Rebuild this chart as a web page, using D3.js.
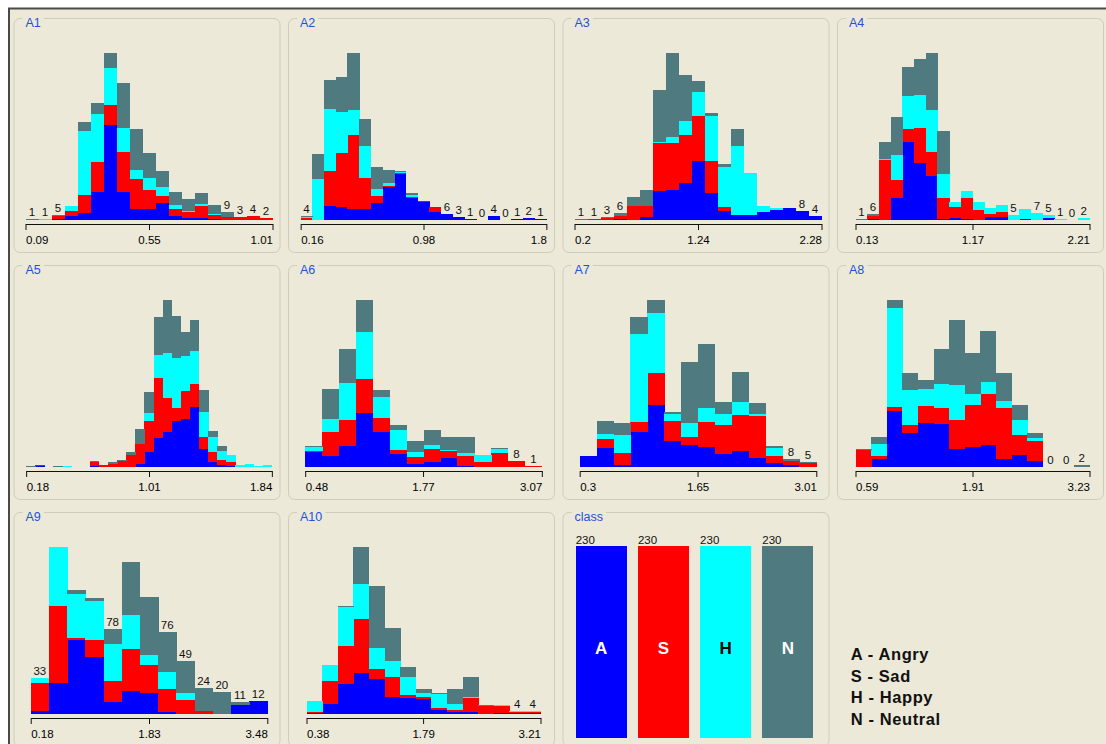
<!DOCTYPE html>
<html>
<head>
<meta charset="utf-8">
<script src="https://cdn.jsdelivr.net/npm/d3@7"></script>
<style>
  body { margin: 0; background: #ffffff; }
  text { font-family: "Liberation Sans", Arial, sans-serif; }
</style>
</head>
<body>
<div id="chart"></div>
<script>
// Step 1: the values
//= ================================
const classKeys = ["A", "S", "H", "N"];
const classColors = ["#0000ff", "#ff0000", "#00ffff", "#4f7a80"];
const classCounts = [230, 230, 230, 230];
const legendLabels = ["A - Angry", "S - Sad", "H - Happy", "N - Neutral"];

const attrNames = ["A1", "A2", "A3", "A4", "A5", "A6", "A7", "A8", "A9", "A10"];
const tickLabels = [
    [0.09, 0.55, 1.01], [0.16, 0.98, 1.8], [0.2, 1.24, 2.28], [0.13, 1.17, 2.21],
    [0.18, 1.01, 1.84], [0.48, 1.77, 3.07], [0.3, 1.65, 3.01], [0.59, 1.91, 3.23],
    [0.18, 1.83, 3.48], [0.38, 1.79, 3.21]
];

// counts per bin, one array per class (Angry, Sad, Happy, Neutral)
const a1A = [0, 0, 1, 4, 8, 30, 102, 30, 12, 12, 18, 4, 2, 2, 1, 0, 0, 0, 0];
const a1S = [0, 0, 3, 6, 19, 33, 22, 43, 32, 20, 8, 8, 7, 13, 4, 3, 3, 4, 2];
const a1H = [0, 1, 0, 5, 69, 51, 40, 26, 10, 13, 10, 4, 1, 2, 1, 0, 0, 0, 0];
const a1N = [1, 0, 1, 0, 10, 12, 16, 49, 44, 27, 17, 14, 13, 12, 10, 6, 0, 0, 0];

const a2A = [0, 0, 15, 14, 12, 12, 18, 36, 50, 24, 20, 9, 6, 3, 1, 0, 4, 0, 1, 2, 1];
const a2S = [2, 0, 38, 59, 80, 34, 8, 1, 1, 1, 1, 5, 0, 0, 0, 0, 0, 0, 0, 0, 0];
const a2H = [1, 44, 67, 44, 27, 34, 8, 3, 1, 2, 0, 0, 0, 0, 0, 0, 0, 0, 0, 0, 0];
const a2N = [1, 28, 32, 38, 62, 30, 23, 14, 1, 2, 0, 0, 0, 0, 0, 0, 0, 0, 0, 0, 0];

const a3A = [0, 0, 0, 1, 0, 3, 27, 28, 34, 54, 25, 8, 5, 5, 7, 9, 11, 8, 4];
const a3S = [0, 1, 2, 3, 13, 10, 44, 43, 44, 42, 29, 4, 0, 0, 0, 0, 0, 0, 0];
const a3H = [0, 0, 0, 0, 0, 0, 1, 6, 13, 22, 42, 37, 63, 38, 6, 2, 0, 0, 0];
const a3N = [1, 0, 1, 2, 8, 15, 48, 77, 43, 10, 3, 3, 16, 0, 0, 0, 0, 0, 0];

const a4A = [0, 1, 0, 23, 81, 59, 46, 1, 2, 1, 0, 3, 3, 0, 1, 0, 2, 0, 0, 0];
const a4S = [0, 3, 62, 19, 14, 37, 25, 22, 12, 22, 10, 3, 5, 0, 0, 0, 0, 0, 0, 0];
const a4H = [0, 0, 2, 26, 34, 34, 44, 25, 5, 7, 9, 7, 8, 5, 10, 7, 3, 1, 0, 2];
const a4N = [1, 2, 17, 39, 30, 38, 59, 45, 0, 0, 0, 0, 0, 0, 0, 0, 0, 0, 0, 0];

const a5A = [0, 1, 0, 0, 0, 0, 0, 1, 0, 0, 0, 0, 3, 13, 25, 30, 40, 42, 52, 16, 4, 2, 1, 0, 0, 0, 0];
const a5S = [0, 1, 0, 0, 0, 0, 0, 3, 2, 3, 5, 10, 17, 27, 52, 30, 11, 24, 20, 10, 9, 4, 3, 0, 0, 0, 0];
const a5H = [0, 0, 0, 0, 1, 0, 0, 0, 0, 0, 0, 0, 0, 7, 20, 39, 44, 30, 29, 22, 13, 8, 6, 2, 3, 1, 2];
const a5N = [1, 0, 0, 1, 0, 0, 0, 1, 0, 1, 1, 3, 13, 18, 33, 46, 36, 21, 27, 19, 5, 4, 0, 0, 0, 0, 0];

const a6A = [21, 15, 29, 75, 49, 18, 4, 7, 12, 1, 0, 0, 0, 0];
const a6S = [1, 34, 36, 47, 19, 6, 10, 18, 11, 14, 7, 19, 8, 1];
const a6H = [6, 18, 52, 66, 29, 27, 7, 5, 1, 5, 10, 6, 0, 0];
const a6N = [1, 41, 47, 44, 10, 7, 15, 22, 18, 21, 0, 1, 0, 0];

const a7A = [11, 18, 2, 34, 59, 25, 21, 19, 12, 15, 9, 4, 2, 0];
const a7S = [0, 9, 11, 9, 31, 19, 8, 24, 28, 35, 40, 7, 4, 4];
const a7H = [0, 5, 18, 84, 58, 7, 13, 14, 11, 12, 2, 7, 0, 0];
const a7N = [0, 12, 11, 17, 12, 2, 59, 61, 11, 29, 10, 2, 2, 1];

const a8A = [0, 7, 47, 28, 37, 36, 15, 17, 18, 7, 10, 5, 0, 0, 0];
const a8S = [14, 2, 3, 7, 14, 13, 24, 35, 43, 42, 17, 17, 0, 0, 0];
const a8H = [0, 10, 82, 29, 14, 20, 29, 9, 10, 6, 12, 2, 0, 0, 0];
const a8N = [1, 6, 7, 14, 7, 29, 54, 34, 42, 23, 13, 4, 0, 0, 2];

const a9A = [3, 29, 68, 53, 11, 21, 19, 2, 0, 0, 0, 8, 12];
const a9S = [26, 71, 2, 15, 19, 39, 26, 21, 13, 3, 0, 0, 0];
const a9H = [4, 54, 41, 36, 35, 31, 9, 16, 6, 0, 0, 0, 0];
const a9N = [0, 0, 3, 3, 13, 49, 54, 37, 30, 21, 20, 3, 0];

const a10A = [1, 13, 38, 52, 44, 22, 20, 19, 5, 3, 2, 0, 1, 1, 2];
const a10S = [1, 29, 47, 68, 13, 24, 4, 2, 2, 2, 18, 10, 9, 1, 1];
const a10H = [14, 19, 50, 44, 26, 21, 22, 5, 18, 7, 2, 0, 1, 2, 1];
const a10N = [0, 0, 1, 46, 78, 41, 13, 5, 1, 19, 24, 1, 0, 0, 0];

const attrSeries = [
    [a1A, a1S, a1H, a1N], [a2A, a2S, a2H, a2N], [a3A, a3S, a3H, a3N],
    [a4A, a4S, a4H, a4N], [a5A, a5S, a5H, a5N], [a6A, a6S, a6H, a6N],
    [a7A, a7S, a7H, a7N], [a8A, a8S, a8H, a8N], [a9A, a9S, a9H, a9N],
    [a10A, a10S, a10H, a10N]
];

// Step 2: layout
//= ================================
const svgWidth = 1106;
const svgHeight = 744;
const bg = "#ece9d8";
const colLeft = [13.5, 288, 562.5, 837];
const rowTop = [18, 265, 512];
const panelW = 266;
const panelH = 234;

const color = d3.scaleOrdinal().domain(classKeys).range(classColors);

const svg = d3.select("#chart")
    .append("svg")
    .attr("width", svgWidth)
    .attr("height", svgHeight);

// window background with the dark top/left edge
svg.append("rect")
    .attr("x", 9).attr("y", 8)
    .attr("width", svgWidth - 9).attr("height", svgHeight - 8)
    .attr("fill", bg);
svg.append("path")
    .attr("d", `M9,${svgHeight} V8.5 H${svgWidth}`)
    .attr("fill", "none")
    .attr("stroke", "#4a4a4a")
    .attr("stroke-width", 2);

// group box with a title that breaks the border
function drawFrame(left, top, title) {
    const g = svg.append("g");
    g.append("rect")
        .attr("x", left + 0.5).attr("y", top + 0.5)
        .attr("width", panelW).attr("height", panelH)
        .attr("rx", 6)
        .attr("fill", "none")
        .attr("stroke", "#cfccbb");
    const mask = g.append("rect").attr("fill", bg);
    const t = g.append("text")
        .attr("x", left + 12)
        .attr("y", top + 9)
        .attr("fill", "#1f52dc")
        .style("font-size", "12.5px")
        .text(title);
    const bb = t.node().getBBox();
    mask.attr("x", bb.x - 3).attr("y", top - 2)
        .attr("width", bb.width + 6).attr("height", 5);
    return g;
}

const labelWidth = n => 3.5 + 7 * String(n).length;

// Step 3: one stacked histogram per attribute
//= ================================
attrNames.forEach(function (name, p) {
    const left = colLeft[p % 4];
    const top = rowTop[Math.floor(p / 4)];
    const g = drawFrame(left, top, name);
    const ticks = tickLabels[p];
    const series = attrSeries[p];
    const n = series[0].length;

    const barW = Math.floor(190 / n) * 1.3;
    const x0 = left + (panelW - barW * n) / 2 + 2.5;
    const xScale = d3.scaleLinear()
        .domain([ticks[0], ticks[2]])
        .range([x0, x0 + barW * n]);
    const step = (ticks[2] - ticks[0]) / n;
    const edge = i => xScale(ticks[0] + i * step);

    const rows = d3.range(n).map(function (i) {
        const r = { i: i };
        classKeys.forEach((k, c) => { r[k] = series[c][i]; });
        r.total = classKeys.reduce((s, k) => s + r[k], 0);
        return r;
    });

    const base = top + 202;
    const yScale = d3.scaleLinear()
        .domain([0, d3.max(rows, d => d.total)])
        .range([base, top + 35]);

    const stacked = d3.stack().keys(classKeys)(rows);

    g.append("g")
        .attr("shape-rendering", "crispEdges")
        .selectAll("g")
        .data(stacked)
        .join("g")
        .attr("fill", d => color(d.key))
        .selectAll("rect")
        .data(d => d.filter(s => s[1] > s[0]))
        .join("rect")
        .attr("x", d => edge(d.data.i))
        .attr("width", d => edge(d.data.i + 1) - edge(d.data.i) + 0.4)
        .attr("y", d => yScale(d[1]))
        .attr("height", d => Math.max(1, yScale(d[0]) - yScale(d[1])));

    // bin counts where they fit above the bar
    g.append("g").selectAll("text")
        .data(rows.filter(d => labelWidth(d.total) < barW))
        .join("text")
        .attr("x", d => (edge(d.i) + edge(d.i + 1)) / 2)
        .attr("y", d => yScale(d.total) - 3)
        .attr("text-anchor", "middle")
        .attr("fill", "#111")
        .style("font-size", "11.5px")
        .text(d => d.total);

    const bottomAxis = d3.axisBottom(xScale)
        .tickValues(ticks)
        .tickSize(6)
        .tickSizeOuter(0)
        .tickFormat(d => d);

    const ag = g.append("g")
        .attr("transform", `translate(0, ${top + 206})`)
        .call(bottomAxis);
    ag.select(".domain").attr("stroke", "#111");
    ag.selectAll(".tick line").attr("stroke", "#111");
    ag.selectAll(".tick text")
        .attr("y", 12)
        .attr("fill", "#000")
        .style("font-size", "11.5px")
        .style("font-family", "'Liberation Sans', Arial, sans-serif")
        .attr("text-anchor", (d, i) => i === 0 ? "start" : (i === 2 ? "end" : "middle"));
});

// Step 4: class panel and legend
//= ================================
const classLeft = colLeft[2];
const classTop = rowTop[2];
const cg = drawFrame(classLeft, classTop, "class");

const cx = d3.scaleBand()
    .domain(classKeys)
    .range([classLeft + 13.2, classLeft + 250.8])
    .paddingInner(0.18);
const cy = d3.scaleLinear()
    .domain([0, d3.max(classCounts)])
    .range([classTop + 226, classTop + 34]);

cg.selectAll("rect.cls")
    .data(classKeys)
    .join("rect")
    .attr("class", "cls")
    .attr("shape-rendering", "crispEdges")
    .attr("x", d => cx(d))
    .attr("width", cx.bandwidth())
    .attr("y", (d, i) => cy(classCounts[i]))
    .attr("height", (d, i) => cy(0) - cy(classCounts[i]))
    .attr("fill", d => color(d));

cg.selectAll("text.cnt")
    .data(classKeys)
    .join("text")
    .attr("class", "cnt")
    .attr("x", d => cx(d))
    .attr("y", (d, i) => cy(classCounts[i]) - 2)
    .attr("fill", "#111")
    .style("font-size", "11.5px")
    .text((d, i) => classCounts[i]);

cg.selectAll("text.key")
    .data(classKeys)
    .join("text")
    .attr("class", "key")
    .attr("x", d => cx(d) + cx.bandwidth() / 2)
    .attr("y", classTop + 142)
    .attr("text-anchor", "middle")
    .attr("fill", d => d === "H" ? "#000" : "#fff")
    .style("font-size", "17px")
    .style("font-weight", "bold")
    .text(d => d);

svg.append("g").selectAll("text")
    .data(legendLabels)
    .join("text")
    .attr("x", 850.7)
    .attr("y", (d, i) => 660 + i * 21.7)
    .attr("fill", "#111")
    .style("font-size", "16.5px")
    .style("font-weight", "bold")
    .style("letter-spacing", "0.6px")
    .text(d => d);
</script>
</body>
</html>
